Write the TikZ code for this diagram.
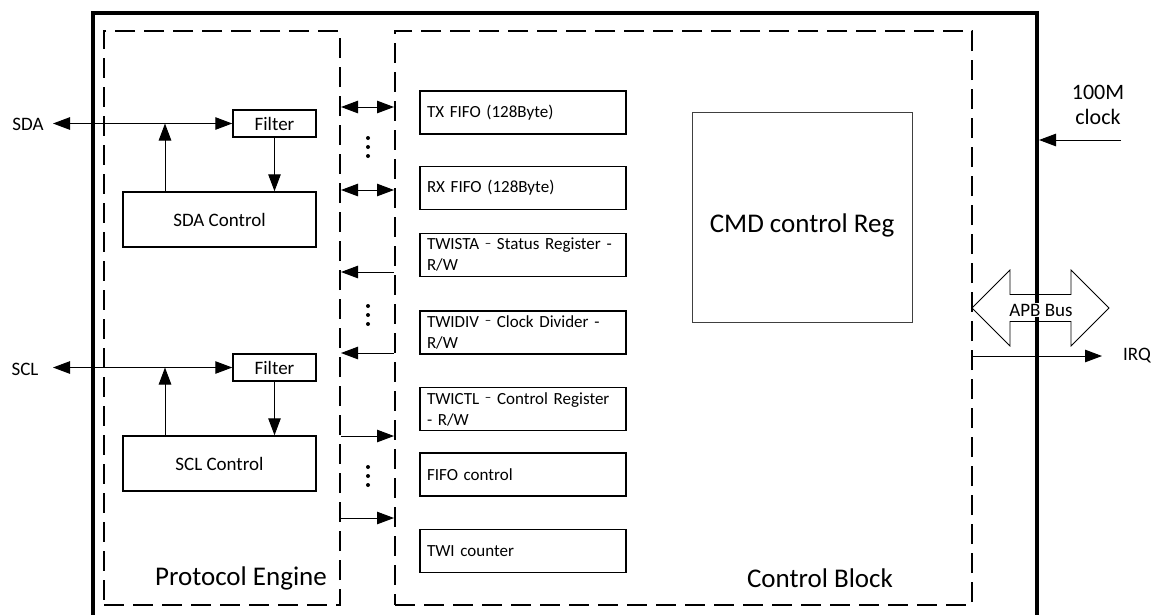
\documentclass[tikz,border=0pt]{standalone}
\usepackage{fontspec}
\setmainfont{Carlito}
\usetikzlibrary{arrows.meta}
\newcommand\myfs[2]{\fontsize{#1}{#2}\selectfont}
\begin{document}
\begin{tikzpicture}[x=1pt,y=-1pt,
  every node/.style={font=\myfs{19}{23}},
  blk/.style={draw, line width=1.5pt, inner sep=0pt},
  reg/.style={draw, line width=1.5pt, minimum width=206pt, minimum height=43pt, text width=192pt, inner xsep=7pt, inner ysep=0pt, align=left, font=\myfs{17}{21}},
  dbox/.style={draw, line width=2pt, dash pattern=on 20pt off 9pt, inner sep=0pt},
  arr/.style={line width=1pt, -{Triangle[length=17pt,width=12.5pt]}},
  darr/.style={line width=1pt, {Triangle[length=17pt,width=12.5pt]}-{Triangle[length=17pt,width=12.5pt]}},
  biglbl/.style={font=\myfs{27}{32}}
]
\useasboundingbox (0,0) rectangle (1155,614);

% outer and dashed blocks
\node[draw, line width=4pt, minimum width=944pt, minimum height=620pt, inner sep=0pt] (outer) at (565,323) {};
\node[dbox, minimum width=236pt, minimum height=574pt] (pe) at (222,318) {};
\node[dbox, minimum width=577pt, minimum height=574pt] (cb) at (683.5,318) {};

% SDA path
\node (sdal) at (28,124) {SDA};
\node[blk, minimum width=83pt, minimum height=27pt] (fsda) at (274.5,123.5) {Filter};
\node[blk, minimum width=193pt, minimum height=55pt] (csda) at (219.5,219.5) {SDA Control};
\coordinate (sdaend) at (53,123.5);
\coordinate (sdatap) at (165,123.5);
\draw[darr] (sdaend) -- (fsda.west);
\draw[arr] (sdatap |- csda.north) -- (sdatap);
\draw[arr] (fsda.south) -- (fsda.south |- csda.north);

% SCL path
\node (scll) at (25,369) {SCL};
\node[blk, minimum width=83pt, minimum height=27pt] (fscl) at (274.5,367.5) {Filter};
\node[blk, minimum width=193pt, minimum height=55pt] (cscl) at (219.5,463.5) {SCL Control};
\coordinate (sclend) at (53,367.5);
\coordinate (scltap) at (165,367.5);
\draw[darr] (sclend) -- (fscl.west);
\draw[arr] (scltap |- cscl.north) -- (scltap);
\draw[arr] (fscl.south) -- (fscl.south |- cscl.north);

% links between blocks
\coordinate (l1) at (0,107);
\coordinate (l2) at (0,190);
\coordinate (l3) at (0,272);
\coordinate (l4) at (0,353);
\coordinate (l5) at (0,436);
\coordinate (l6) at (0,518);
\draw[darr] (pe.east |- l1) -- (cb.west |- l1);
\draw[darr] (pe.east |- l2) -- (cb.west |- l2);
\draw[arr] (cb.west |- l3) -- (pe.east |- l3);
\draw[arr] (cb.west |- l4) -- (pe.east |- l4);
\draw[arr] (pe.east |- l5) -- (cb.west |- l5);
\draw[arr] (pe.east |- l6) -- (cb.west |- l6);
\foreach \yy in {138,147,156,306,315,324,467,476,485} \fill (368,\yy) circle (2pt);

% registers
\node[reg] (tx) at (523,112.5) {TX FIFO (128Byte)};
\node[reg] (rx) at (523,188) {RX FIFO (128Byte)};
\node[reg] (sta) at (523,255) {TWISTA \raisebox{0.35ex}{\myfs{13}{13}–} Status Register -\\R/W};
\node[reg] (div) at (523,332.5) {TWIDIV \raisebox{0.35ex}{\myfs{13}{13}–} Clock Divider -\\R/W};
\node[reg] (ctl) at (523,409) {TWICTL \raisebox{0.35ex}{\myfs{13}{13}–} Control Register\\- R/W};
\node[reg] (fc) at (523,474.5) {FIFO control};
\node[reg] (cnt) at (523,551) {TWI counter};

% CMD register
\node[draw=black!75, line width=1pt, minimum width=220pt, minimum height=210pt, text height=30pt, text depth=0pt, biglbl] (cmd) at (802,217) {CMD control Reg};

% block labels
\node[biglbl] (pel) at (241,578) {Protocol Engine};
\node[biglbl] (cbl) at (820,578) {Control Block};

% right side
\node[font=\myfs{22}{25}, align=center] (clkl) at (1098,105) {100M\\clock};
\coordinate (clks) at (1121,140);
\draw[arr] (clks) -- (clks -| outer.east);
\draw[line width=0.8pt] (972,308) -- (1010,270) -- (1010,294.5) -- (1071,294.5) -- (1071,270) -- (1109,308) -- (1071,346) -- (1071,321.5) -- (1010,321.5) -- (1010,346) -- cycle;
\node[fill=white, inner sep=0.5pt] (apb) at (1041,310) {APB Bus};
\coordinate (irqm) at (0,356);
\coordinate (irqe) at (1102,356);
\draw[arr] (cb.east |- irqm) -- (irqe);
\node (irql) at (1137,356) {IRQ};
\end{tikzpicture}
\end{document}
